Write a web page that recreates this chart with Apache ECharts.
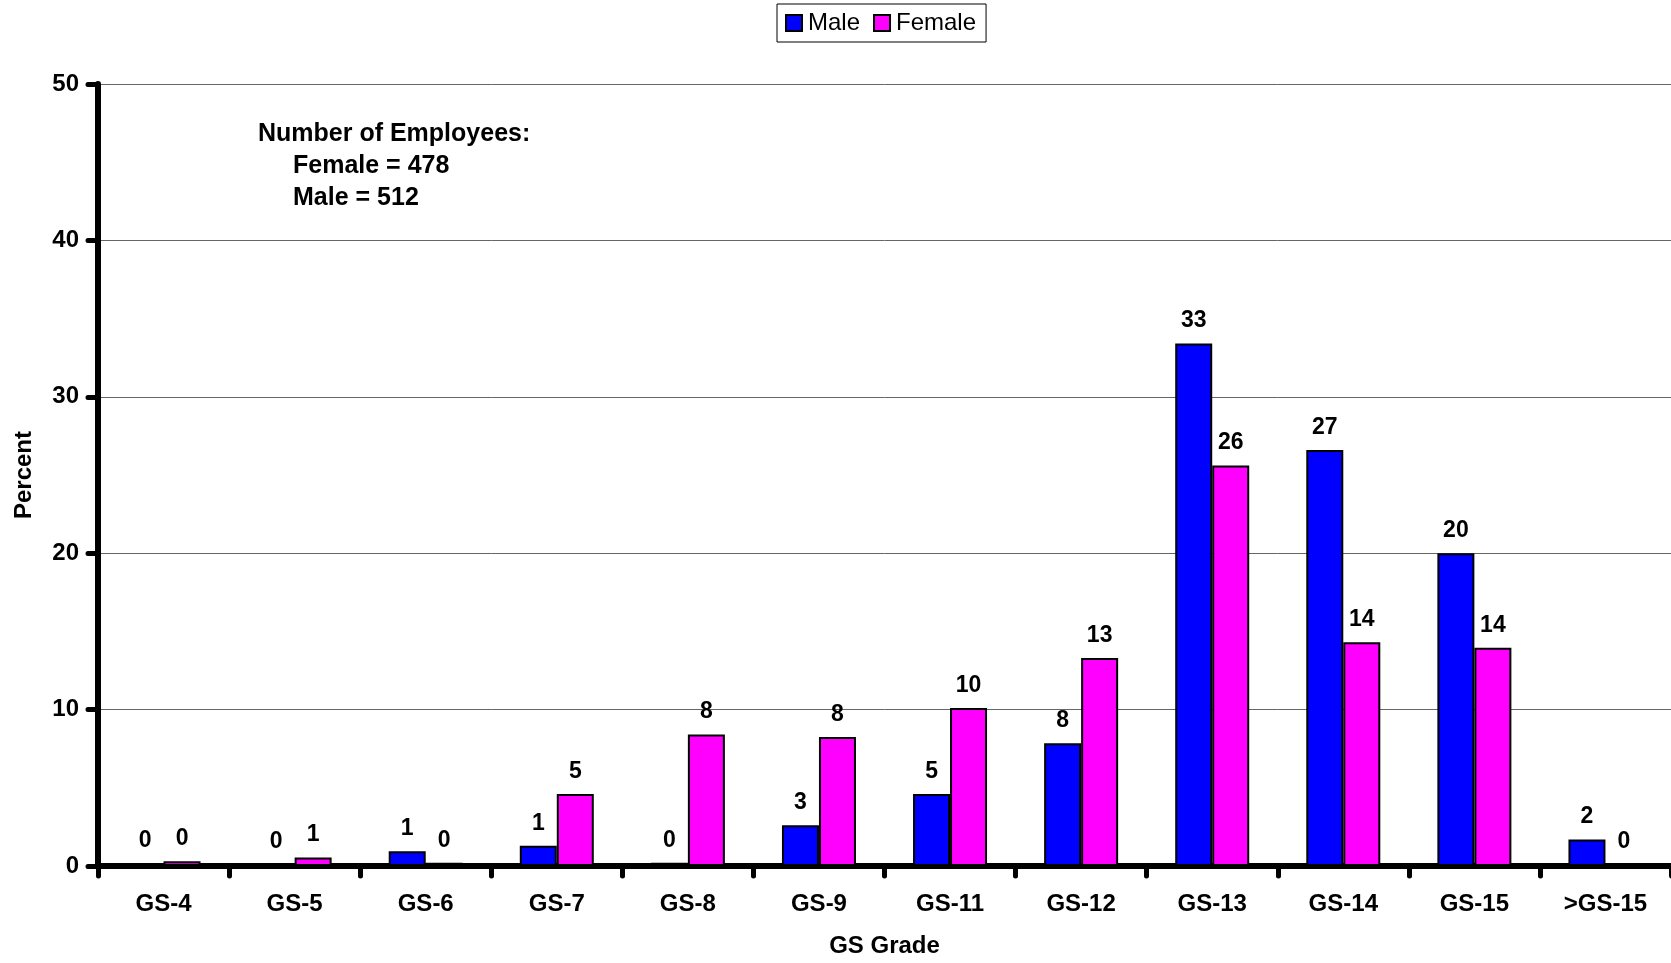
<!DOCTYPE html>
<html>
<head>
<meta charset="utf-8">
<script src="https://cdn.jsdelivr.net/npm/echarts@6/dist/echarts.min.js"></script>
<style>
html,body{margin:0;padding:0;background:#fff;}
#chart{width:1671px;height:963px;}
</style>
</head>
<body>
<div id="chart"></div>
<script>
const categories = ['GS-4','GS-5','GS-6','GS-7','GS-8','GS-9','GS-11','GS-12','GS-13','GS-14','GS-15','>GS-15'];
const maleValues = [0.15, 0.1, 0.95, 1.3, 0.2, 2.6, 4.6, 7.85, 33.4, 26.6, 20.0, 1.7];
const femaleValues = [0.3, 0.55, 0.2, 4.6, 8.4, 8.25, 10.1, 13.3, 25.6, 14.3, 13.95, 0.1];
const yTicks = [0, 10, 20, 30, 40, 50];
const noteLines = ['Number of Employees:', 'Female = 478', 'Male = 512'];
const noteIndent = [0, 35, 35];

const FONT = '"Liberation Sans", Arial, sans-serif';
const chart = echarts.init(document.getElementById('chart'), null, {renderer: 'canvas'});

const labelOpt = {
  show: true,
  position: 'top',
  distance: 11,
  color: '#000',
  fontFamily: FONT,
  fontWeight: 'bold',
  fontSize: 23,
  formatter: p => String(Math.round(p.value))
};

chart.setOption({
  backgroundColor: '#fff',
  animation: false,
  legend: {
    left: 777,
    top: 4,
    icon: 'rect',
    itemWidth: 16,
    itemHeight: 16,
    itemGap: 13,
    padding: [7, 10, 7, 8],
    borderColor: '#000',
    borderWidth: 1,
    textStyle: {fontFamily: FONT, fontSize: 24, color: '#000', padding: [0, 0, 0, 1]},
    data: [
      {name: 'Male', itemStyle: {color: '#0000FF', borderColor: '#000', borderWidth: 2}},
      {name: 'Female', itemStyle: {color: '#FF00FF', borderColor: '#000', borderWidth: 2}}
    ]
  },
  grid: {left: 98, right: 0, top: 84, bottom: 96, containLabel: false},
  xAxis: {
    type: 'category',
    data: categories,
    name: 'GS Grade',
    nameLocation: 'middle',
    nameGap: 68,
    nameTextStyle: {fontFamily: FONT, fontWeight: 'bold', fontSize: 24, color: '#000'},
    axisLine: {show: true, lineStyle: {color: '#000', width: 6}},
    axisTick: {show: true, alignWithLabel: false, length: 10, lineStyle: {color: '#000', width: 5, cap: 'round'}},
    axisLabel: {fontFamily: FONT, fontWeight: 'bold', fontSize: 24, color: '#000', margin: 26, interval: 0},
    splitLine: {show: false}
  },
  yAxis: {
    type: 'value',
    min: 0,
    max: 50,
    interval: 10,
    name: 'Percent',
    nameLocation: 'middle',
    nameGap: 62,
    nameRotate: 90,
    nameTextStyle: {fontFamily: FONT, fontWeight: 'bold', fontSize: 24, color: '#000'},
    axisLine: {show: true, lineStyle: {color: '#000', width: 6}},
    axisTick: {show: true, length: 10, lineStyle: {color: '#000', width: 5, cap: 'round'}},
    axisLabel: {
      fontFamily: FONT, fontWeight: 'bold', fontSize: 24, color: '#000', margin: 19,
      formatter: v => yTicks.indexOf(v) >= 0 ? String(v) : ''
    },
    splitLine: {show: true, lineStyle: {color: '#666', width: 1}}
  },
  graphic: noteLines.map((t, i) => ({
    type: 'text',
    left: 258 + noteIndent[i],
    top: 122 + i * 32,
    style: {text: t, fill: '#000', font: 'bold 25px ' + FONT}
  })),
  series: [
    {
      name: 'Male',
      type: 'bar',
      data: maleValues,
      barWidth: 37,
      barGap: '0%',
      itemStyle: {color: '#0000FF', borderColor: '#000', borderWidth: 2},
      label: labelOpt
    },
    {
      name: 'Female',
      type: 'bar',
      data: femaleValues,
      barWidth: 37,
      barGap: '0%',
      itemStyle: {color: '#FF00FF', borderColor: '#000', borderWidth: 2},
      label: labelOpt
    }
  ]
});
</script>
</body>
</html>
